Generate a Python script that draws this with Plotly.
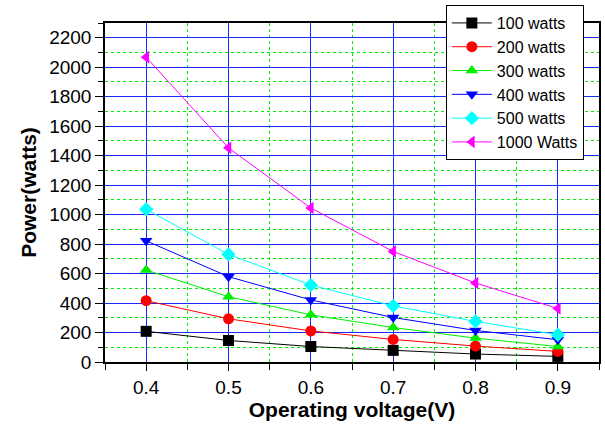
import plotly.graph_objects as go

voltage = [0.4, 0.5, 0.6, 0.7, 0.8, 0.9]
p100 = [208, 146, 105, 79, 54, 38]
p200 = [416, 293, 211, 153, 108, 72]
p300 = [624, 443, 320, 234, 162, 105]
p400 = [822, 579, 421, 302, 214, 151]
p500 = [1036, 730, 522, 381, 275, 185]
p1000 = [2068, 1453, 1045, 750, 536, 363]

series = [
    ("100 watts", p100, "#000000", "square"),
    ("200 watts", p200, "#ff0000", "circle"),
    ("300 watts", p300, "#00ee00", "triangle-up"),
    ("400 watts", p400, "#0000ff", "triangle-down"),
    ("500 watts", p500, "#00ffff", "diamond"),
    ("1000 Watts", p1000, "#ff00ff", "triangle-left"),
]

fig = go.Figure()
for name, vals, color, sym in series:
    fig.add_trace(go.Scatter(
        x=voltage, y=vals, name=name, mode="lines+markers",
        line=dict(color=color, width=1),
        marker=dict(symbol=sym, size=11, color=color),
    ))

font = "Liberation Sans, Arial, sans-serif"
fig.update_layout(
    width=605, height=425,
    margin=dict(l=105, r=6, t=23, b=63, autoexpand=False),
    paper_bgcolor="white", plot_bgcolor="white",
    font=dict(family=font, color="black"),
    legend=dict(
        x=0.69, y=1.053, xanchor="left", yanchor="top",
        bordercolor="black", borderwidth=1, bgcolor="white",
        font=dict(size=16, family=font), itemwidth=40,
        tracegroupgap=0,
    ),
    showlegend=True,
)
fig.update_xaxes(
    range=[0.35, 0.95], dtick=0.1, tick0=0.4, automargin=False,
    showline=True, linecolor="black", linewidth=1.5, mirror=True,
    ticks="outside", ticklen=7, tickcolor="black",
    tickfont=dict(size=19),
    showgrid=True, gridcolor="#1a2aff", gridwidth=1, zeroline=False,
    minor=dict(dtick=0.05, tick0=0.35, showgrid=True, gridcolor="#00ee00",
               griddash="dot", gridwidth=1, ticks="outside", ticklen=6,
               tickcolor="black"),
    title=dict(text="<b>Operating voltage(V)</b>", font=dict(size=21), standoff=5),
)
fig.update_yaxes(
    range=[0, 2300], dtick=200, tick0=0, automargin=False,
    showline=True, linecolor="black", linewidth=1.5, mirror=True,
    ticks="outside", ticklen=8, tickcolor="black",
    tickfont=dict(size=19),
    showgrid=True, gridcolor="#1a2aff", gridwidth=1, zeroline=False,
    minor=dict(dtick=100, showgrid=True, gridcolor="#00ee00",
               griddash="dot", gridwidth=1, ticks="outside", ticklen=5,
               tickcolor="black"),
    title=dict(text="<b>Power(watts)</b>", font=dict(size=21), standoff=7),
)

fig.write_html("out.html", config={"displayModeBar": False},
               post_script="document.body.style.margin='0';")
